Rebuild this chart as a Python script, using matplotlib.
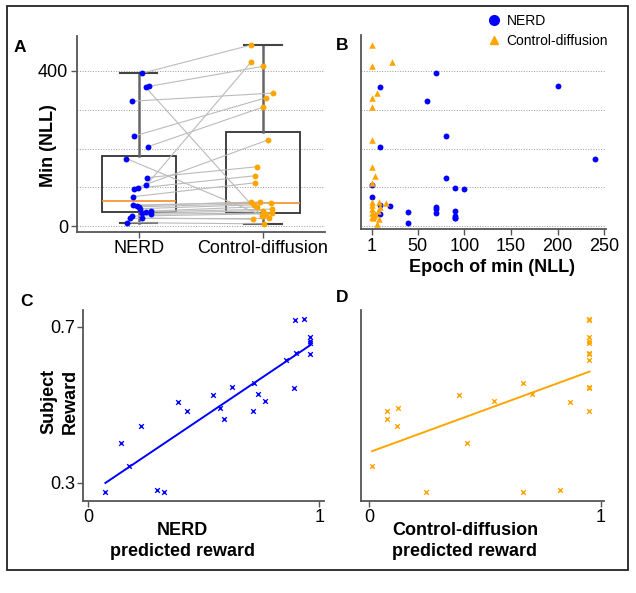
import numpy as np
import matplotlib
matplotlib.use("Agg")
import matplotlib.pyplot as plt
from matplotlib.patches import Rectangle
from matplotlib.lines import Line2D

plt.rcParams['font.family'] = ['Liberation Sans', 'DejaVu Sans']

# ---------------- data ----------------
groups = ["NERD", "Control-diffusion"]
# paired per subject (panel A / B)
nerd_min_nll = [394, 360, 358, 322, 232, 205, 174, 125, 105, 98, 96, 76,
                54, 53, 50, 45, 39, 37, 33, 31, 26, 22, 21, 9]
cd_min_nll = [467, 412, 25, 343, 331, 307, 27, 153, 422, 130, 222, 112,
              62, 62, 59, 55, 50, 44, 40, 34, 32, 22, 18, 6]
nerd_epoch = [70, 200, 10, 60, 80, 10, 240, 80, 1, 90, 100, 1,
              10, 20, 70, 70, 90, 40, 70, 10, 90, 90, 90, 40]
cd_epoch = [1, 1, 1, 6, 1, 1, 3, 1, 22, 4, 1, 1,
            1, 8, 16, 1, 10, 1, 7, 1, 4, 2, 9, 6]

# panel C / D
subject_reward = [0.276, 0.403, 0.343, 0.445, 0.283, 0.277, 0.506, 0.483, 0.526,
                  0.493, 0.465, 0.546, 0.485, 0.557, 0.529, 0.511, 0.615, 0.542,
                  0.716, 0.633, 0.720, 0.674, 0.664, 0.657, 0.631]
nerd_pred = [0.074, 0.140, 0.176, 0.228, 0.297, 0.329, 0.390, 0.427, 0.541,
             0.570, 0.589, 0.622, 0.711, 0.719, 0.734, 0.763, 0.856, 0.892,
             0.895, 0.898, 0.932, 0.960, 0.960, 0.960, 0.960]
cd_pred = [0.246, 0.424, 0.012, 0.120, 0.824, 0.666, 0.866, 0.078, 0.389,
           0.125, 0.078, 0.952, 0.948, 0.664, 0.705, 0.540, 0.952, 0.950,
           0.952, 0.950, 0.952, 0.952, 0.952, 0.952, 0.952]

a_yticks = [0, 400]
a_grid = [100, 200, 300]
b_xticks = [1, 50, 100, 150, 200, 250]
c_yticks = [0.3, 0.7]
cd_xticks = [0, 1]

BLUE = '#0000ff'
ORANGE = '#ffa500'
SPINE = '#555555'
W, H = 636, 593
TICK_FS = 13
LABEL_FS = 13

fig = plt.figure(figsize=(W / 100, H / 100), dpi=100)


def px_axes(l, t, r, b):
    return fig.add_axes([l / W, 1 - b / H, (r - l) / W, (b - t) / H])


def style(ax):
    for s in ['top', 'right']:
        ax.spines[s].set_visible(False)
    for s in ['left', 'bottom']:
        ax.spines[s].set_color(SPINE)
        ax.spines[s].set_linewidth(1.3)
    ax.tick_params(colors=SPINE, labelcolor='black', labelsize=TICK_FS, width=1.0, length=4, pad=2)


# ---------------- Panel A ----------------
axA = px_axes(76.7, 36, 325, 232)
style(axA)
rng = np.random.default_rng(7)
n = len(nerd_min_nll)
jx1 = 1 + rng.uniform(-0.1, 0.1, n)
jx2 = 2 + rng.uniform(-0.1, 0.1, n)
for i in range(n):
    axA.plot([jx1[i], jx2[i]], [nerd_min_nll[i], cd_min_nll[i]], color='#bbbbbb', lw=0.8, zorder=2)
bp = axA.boxplot([nerd_min_nll, cd_min_nll], positions=[1, 2], widths=0.6, whis=(0, 100),
                 patch_artist=True, showfliers=False, zorder=1,
                 boxprops=dict(facecolor='none', edgecolor='#333333', linewidth=1.3),
                 whiskerprops=dict(color='#666666', linewidth=1.8),
                 capprops=dict(color='#444444', linewidth=1.5),
                 medianprops=dict(color='#f28e2b', linewidth=1.2))
axA.scatter(jx1, nerd_min_nll, s=18, color=BLUE, zorder=3, linewidths=0)
axA.scatter(jx2, cd_min_nll, s=18, color=ORANGE, zorder=3, linewidths=0)
axA.set_xlim(0.5, 2.5)
axA.set_ylim(-15, 490)
axA.set_xticks([1, 2])
axA.set_xticklabels(groups)
axA.set_yticks(a_yticks)
axA.set_yticklabels([str(v) for v in a_yticks])
axA.set_yticks(a_grid, minor=True)
axA.tick_params(axis='y', which='minor', length=0)
axA.yaxis.grid(True, which='both', ls=':', color='#999999', lw=0.7)
axA.set_axisbelow(True)
axA.set_ylabel("Min (NLL)", fontsize=LABEL_FS, fontweight='bold')
axA.yaxis.set_label_coords(-0.08, 0.44)

# ---------------- Panel B ----------------
axB = px_axes(361, 35, 606, 229.3)
style(axB)
axB.scatter(nerd_epoch, nerd_min_nll, s=18, color=BLUE, marker='o', zorder=3, linewidths=0)
axB.scatter(cd_epoch, cd_min_nll, s=22, color=ORANGE, marker='^', zorder=3, linewidths=0)
axB.set_xlim(-10.8, 252)
axB.set_ylim(-7.7, 492)
axB.set_xticks(b_xticks)
axB.set_xticklabels([str(v) for v in b_xticks])
axB.set_yticks([0, 100, 200, 300, 400])
axB.set_yticklabels([])
axB.tick_params(axis='y', length=0)
axB.yaxis.grid(True, ls=':', color='#999999', lw=0.7)
axB.set_axisbelow(True)
axB.set_xlabel("Epoch of min (NLL)", fontsize=LABEL_FS, fontweight='bold')
axB.xaxis.set_label_coords(0.533, -0.155)
axB.xaxis.label.set_va('top')

handles = [Line2D([], [], marker='o', color=BLUE, ls='none', markersize=7),
           Line2D([], [], marker='^', color=ORANGE, ls='none', markersize=6)]
fig.legend(handles, groups, loc='upper left', bbox_to_anchor=(487 / W, 1 - 14 / H),
           frameon=False, fontsize=10, handlelength=1.0, handletextpad=0.4,
           borderpad=0, borderaxespad=0, labelspacing=0.45)

# ---------------- Panel C ----------------
axC = px_axes(83.3, 310, 324, 500.7)
style(axC)
axC.scatter(nerd_pred, subject_reward, marker='x', s=11, color=BLUE, linewidths=1.0, zorder=3)
k, b = np.polyfit(nerd_pred, subject_reward, 1)
xs = np.array([min(nerd_pred), max(nerd_pred)])
axC.plot(xs, k * xs + b, color=BLUE, lw=1.4)
axC.set_xlim(-0.0216, 1.02)
axC.set_ylim(0.2547, 0.7427)
axC.set_xticks(cd_xticks)
axC.set_xticklabels([str(v) for v in cd_xticks])
axC.set_yticks(c_yticks)
axC.set_yticklabels([str(v) for v in c_yticks])
axC.set_xlabel("NERD\npredicted reward", fontsize=LABEL_FS, fontweight='bold', linespacing=1.3)
axC.xaxis.set_label_coords(0.413, -0.11)
axC.xaxis.label.set_va('top')
axC.set_ylabel("Subject\nReward", fontsize=LABEL_FS, fontweight='bold', linespacing=1.3)
axC.yaxis.set_label_coords(-0.02, 0.52)

# ---------------- Panel D ----------------
axD = px_axes(361, 310, 604.3, 500.7)
style(axD)
axD.scatter(cd_pred, subject_reward, marker='x', s=11, color=ORANGE, linewidths=1.0, zorder=3)
k2, b2 = np.polyfit(cd_pred, subject_reward, 1)
xs2 = np.array([min(cd_pred), max(cd_pred)])
axD.plot(xs2, k2 * xs2 + b2, color=ORANGE, lw=1.4)
axD.set_xlim(-0.036, 1.016)
axD.set_ylim(0.2547, 0.7427)
axD.set_xticks(cd_xticks)
axD.set_xticklabels([str(v) for v in cd_xticks])
axD.set_yticks([])
axD.set_xlabel("Control-diffusion\npredicted reward", fontsize=LABEL_FS, fontweight='bold', linespacing=1.3)
axD.xaxis.set_label_coords(0.427, -0.11)
axD.xaxis.label.set_va('top')

# ---------------- panel letters & frame ----------------
for letter, (x, y) in zip("ABCD", [(20, 47), (342, 45), (26.7, 302), (341.7, 298)]):
    fig.text(x / W, 1 - y / H, letter, fontsize=12.5, fontweight='bold', ha='center', va='center')

fig.patches.append(Rectangle((6.7 / W, 1 - 570 / H), (627.7 - 6.7) / W, (570 - 6) / H,
                             transform=fig.transFigure, fill=False, edgecolor='#222222',
                             linewidth=1.3))

fig.savefig("out.png", dpi=100)
